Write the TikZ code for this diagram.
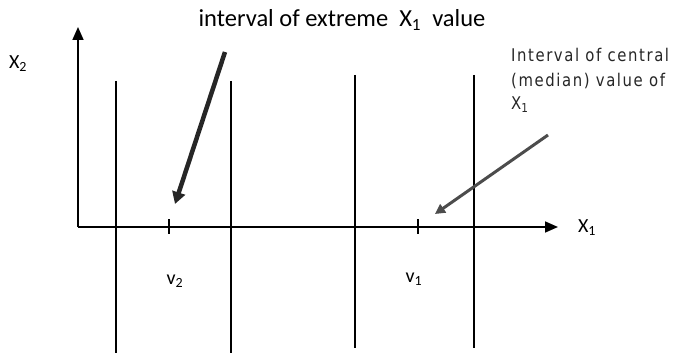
\documentclass[tikz,border=0pt]{standalone}
\usepackage{fontspec}
\setmainfont{Carlito}
\newfontfamily\pixfont[LetterSpace=9,FakeStretch=0.85]{DejaVu Sans}
\usetikzlibrary{arrows.meta}
\tikzset{
  axis/.style={line width=1.6pt,-{Triangle[length=13pt,width=11pt]}},
  bound/.style={line width=1.3pt},
  tickmark/.style={line width=1.1pt},
  lbl/.style={font=\fontsize{20}{22}\selectfont,inner sep=0pt},
  bigarrow/.style={line width=4.5pt,black!85,-{Triangle[length=12pt,width=13pt]}},
  midarrow/.style={line width=3pt,black!70,-{Triangle[length=10pt,width=10pt]}},
  note/.style={font=\pixfont\fontsize{17.5}{22}\selectfont,text=black!85,inner sep=0pt,anchor=base west}
}
\begin{document}
\begin{tikzpicture}[x=1pt,y=-1pt]
\useasboundingbox (0,0) rectangle (680,353);
% axes
\coordinate (O) at (78,227);
\coordinate (ytop) at (78,27);
\coordinate (xend) at (558,227);
\draw[axis] (O) -- (ytop);
\draw[axis] (O) -- (xend);
% vertical interval bounds
\coordinate (a1) at (116,81); \coordinate (a2) at (116,353);
\coordinate (b1) at (231,81); \coordinate (b2) at (231,353);
\coordinate (c1) at (355,75); \coordinate (c2) at (355,348);
\coordinate (d1) at (474,75); \coordinate (d2) at (474,348);
\draw[bound] (a1) -- (a2);
\draw[bound] (b1) -- (b2);
\draw[bound] (c1) -- (c2);
\draw[bound] (d1) -- (d2);
% ticks
\coordinate (t1a) at (169,219); \coordinate (t1b) at (169,234);
\coordinate (t2a) at (418,219); \coordinate (t2b) at (418,234);
\draw[tickmark] (t1a) -- (t1b);
\draw[tickmark] (t2a) -- (t2b);
% labels
\node[lbl] (x2) at (18,64) {X\textsubscript{2}};
\node[lbl] (x1) at (587,228) {X\textsubscript{1}};
\node[lbl] (v2) at (175,281) {v\textsubscript{2}};
\node[lbl] (v1) at (414,279) {v\textsubscript{1}};
\node[lbl,anchor=base,font=\fontsize{24.5}{26}\selectfont] (top) at (342,27) {interval of extreme\ \ X\textsubscript{1}\ \ value};
\node[note] (central1) at (511,62) {Interval of central};
\node[note] (central2) at (511,86) {(median) value of};
\node[note] (central3) at (511,110) {X\textsubscript{1}};
% pointer arrows
\coordinate (e1) at (225,52); \coordinate (e2) at (175,204);
\coordinate (m1) at (548,135); \coordinate (m2) at (435,214);
\draw[bigarrow] (e1) -- (e2);
\draw[midarrow] (m1) -- (m2);
\end{tikzpicture}
\end{document}
